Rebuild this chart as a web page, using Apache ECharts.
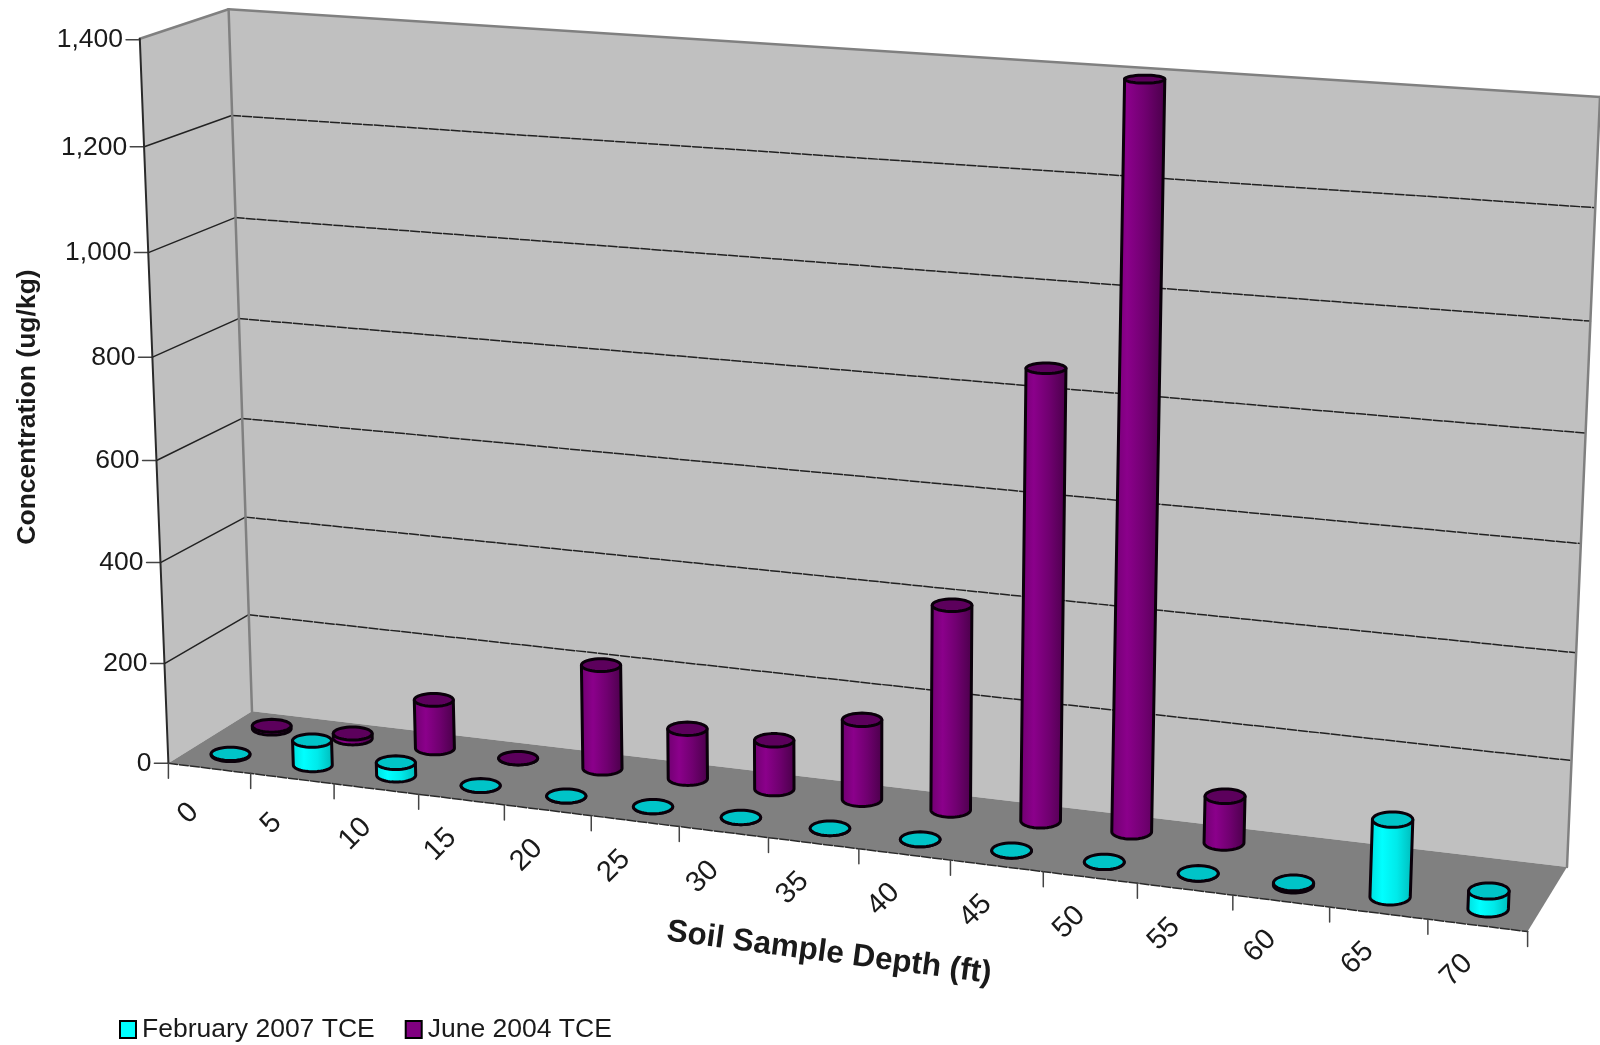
<!DOCTYPE html>
<html>
<head>
<meta charset="utf-8">
<script src="https://cdn.jsdelivr.net/npm/echarts@6/dist/echarts.min.js"></script>
<style>html,body{margin:0;padding:0;background:#fff}#main{width:1600px;height:1045px}</style>
</head>
<body>
<div id="main"></div>
<script>
// ---- data ----
var depthLabels = ['0','5','10','15','20','25','30','35','40','45','50','55','60','65','70'];
var valueTicks = [0,200,400,600,800,1000,1200,1400];
var feb2007 = [2,49,25,0,0,0,0,0,0,0,0,0,4,143,33];
var june2004 = [6,10,98,0,206,99,96,156,396,857,1392,89,null,null,null];
var seriesNames = ['February 2007 TCE','June 2004 TCE'];
var yTitle = 'Concentration (ug/kg)';
var xTitle = 'Soil Sample Depth (ft)';

// ---- perspective of the chart box (pixels of the wall corners) ----
var A=[168.4,763.3], B=[1527.6,931.6], D=[1567,867], C=[252,711.2];
var E=[139.8,38.8], F=[228.6,9.2], G=[1600,97];
var FONT='"Liberation Sans", Arial, sans-serif';

function floorHomography(p0,p1,p2,p3){
  var dx1=p1[0]-p2[0],dx2=p3[0]-p2[0],sx=p0[0]-p1[0]+p2[0]-p3[0];
  var dy1=p1[1]-p2[1],dy2=p3[1]-p2[1],sy=p0[1]-p1[1]+p2[1]-p3[1];
  var den=dx1*dy2-dx2*dy1;
  var g=(sx*dy2-dx2*sy)/den,h=(dx1*sy-sx*dy1)/den;
  return {a:p1[0]-p0[0]+g*p1[0],b:p3[0]-p0[0]+h*p3[0],c:p0[0],
          d:p1[1]-p0[1]+g*p1[1],e:p3[1]-p0[1]+h*p3[1],f:p0[1],g:g,h:h};
}
var H=floorHomography(A,B,D,C);
function solve3(M,r){
  var m=M.map(function(row,i){return row.concat(r[i]);});
  for(var i=0;i<3;i++){
    var piv=i;for(var k=i+1;k<3;k++)if(Math.abs(m[k][i])>Math.abs(m[piv][i]))piv=k;
    var t=m[i];m[i]=m[piv];m[piv]=t;
    for(var k2=0;k2<3;k2++){if(k2===i)continue;var fct=m[k2][i]/m[i][i];
      for(var j=i;j<4;j++)m[k2][j]-=fct*m[i][j];}
  }
  return [m[0][3]/m[0][0],m[1][3]/m[1][1],m[2][3]/m[2][2]];
}
var P=(function(){
  var rows=[],rhs=[];
  [[0,0,E],[0,1,F],[1,1,G]].forEach(function(q){
    var u=q[0],v=q[1],x=q[2][0],y=q[2][1];
    var N=H.a*u+H.b*v+H.c,M=H.d*u+H.e*v+H.f,L=H.g*u+H.h*v+1;
    rows.push([1,0,-x]);rhs.push(x*L-N);
    rows.push([0,1,-y]);rhs.push(y*L-M);
  });
  var AtA=[[0,0,0],[0,0,0],[0,0,0]],Atb=[0,0,0];
  rows.forEach(function(r,i){for(var a=0;a<3;a++){Atb[a]+=r[a]*rhs[i];for(var b=0;b<3;b++)AtA[a][b]+=r[a]*r[b];}});
  return solve3(AtA,Atb);
})();
// u: 0..1 along depth axis, v: 0 front..1 back, w: 0..1 of the value axis
function proj(u,v,w){
  var uu=u+0.0023*Math.sin(Math.PI*u);
  var L=H.g*uu+H.h*v+P[2]*w+1;
  return [(H.a*uu+H.b*v+P[0]*w+H.c)/L,(H.d*uu+H.e*v+P[1]*w+H.f)/L];
}
var boxRect={x:100,y:100,width:1400,height:800};
// library scale -> unit box
function toUnit(px){
  return [(px[0]-boxRect.x)/boxRect.width,1-(px[1]-boxRect.y)/boxRect.height];
}

function ln(p,q,color,width,dash){
  return {type:'line',shape:{x1:p[0],y1:p[1],x2:q[0],y2:q[1]},
    style:{stroke:color,lineWidth:width,lineDash:dash||null,lineCap:'round'},silent:true};
}
function poly(pts,fill){return {type:'polygon',shape:{points:pts},style:{fill:fill,stroke:null},silent:true};}
function txt(s,x,y,size,opt){
  opt=opt||{};
  return {type:'text',x:x,y:y,rotation:opt.rot||0,silent:true,
    style:{text:s,fill:'#1a1a1a',fontFamily:FONT,fontSize:size,fontWeight:opt.bold?'bold':'normal',
      align:opt.align||'center',verticalAlign:'middle'}};
}

function renderFrame(params,api){
  var kids=[];
  kids.push(poly([A,C,F,E],'#c0c0c0'));
  kids.push(poly([C,D,G,F],'#c0c0c0'));
  kids.push(poly([A,B,D,C],'#808080'));
  var maxV=valueTicks[valueTicks.length-1];
  valueTicks.forEach(function(t){
    var w=toUnit(api.coord([0,t]))[1];
    var a=proj(0,0,w),c=proj(0,1,w),d=proj(1,1,w);
    if(t>0&&t<maxV){
      kids.push(ln(a,c,'#222',1.5));
      kids.push(ln(c,d,'#222',1.5,[9,2]));
    }
    kids.push(ln([a[0]-14,a[1]],a,'#444',1.5));
    kids.push(txt(t.toLocaleString('en-US'),a[0]-17,a[1]+0.5,26.5,{align:'right'}));
  });
  kids.push(ln(E,F,'#808080',2.5));
  kids.push(ln(F,G,'#808080',2.5));
  kids.push(ln(F,C,'#808080',2.5));
  kids.push(ln(G,D,'#808080',2.5));
  kids.push(ln(E,A,'#2a2a2a',2));
  kids.push(ln(A,B,'#2a2a2a',1.5,[9,2]));
  var n=depthLabels.length;
  for(var i=0;i<=n;i++){
    var p=proj(i/n,0,0);
    kids.push(ln(p,[p[0],p[1]+15],'#444',1.5));
  }
  depthLabels.forEach(function(lab,i){
    var u=toUnit(api.coord([i,0]))[0];
    var p=proj(u,0,0);
    kids.push(txt(lab,p[0]-21,p[1]+45,29,{rot:Math.PI/4}));
  });
  kids.push(txt(yTitle,28,407,26.5,{bold:true,rot:Math.PI/2}));
  kids.push(txt(xTitle,829,953,31.5,{bold:true,rot:-7.5*Math.PI/180}));
  return {type:'group',children:kids};
}

function cylinderRenderer(depth,colors){
  return function(params,api){
    var val=api.value(1);
    if(val===null||val===undefined||isNaN(val))return null;
    var base=toUnit(api.coord([api.value(0),0]));
    var top=toUnit(api.coord([api.value(0),val]));
    var u=base[0],band=api.size([1,0])[0]/boxRect.width;
    var hw=band*0.235,dv=0.125;
    function ring(w){
      var c=proj(u,depth,w),l=proj(u-hw,depth,w),r=proj(u+hw,depth,w),
          f=proj(u,depth-dv,w),b=proj(u,depth+dv,w);
      var rx=19.5+((r[0]-l[0])/2-19.5)*0.2;
      return {x:c[0],y:c[1],rx:rx,ry:Math.abs(f[1]-b[1])/2};
    }
    function arc(e,a0,a1,steps){
      var out=[];
      for(var i=0;i<=steps;i++){var a=a0+(a1-a0)*i/steps;out.push([e.x+e.rx*Math.cos(a),e.y+e.ry*Math.sin(a)]);}
      return out;
    }
    var eb=ring(base[1]),et=ring(top[1]);
    var kids=[];
    var body=[[et.x-et.rx,et.y]].concat(arc(eb,Math.PI,0,28).map(function(p){return [p[0],eb.y+Math.abs(p[1]-eb.y)];}),[[et.x+et.rx,et.y]]);
    kids.push({type:'polygon',shape:{points:body},silent:true,
      style:{stroke:'#0a000a',lineWidth:3,lineJoin:'round',
        fill:{type:'linear',x:0,y:0,x2:1,y2:0,colorStops:[
          {offset:0,color:colors.side[0]},{offset:0.3,color:colors.side[1]},
          {offset:0.62,color:colors.side[2]},{offset:1,color:colors.side[3]}]}}});
    kids.push({type:'polygon',shape:{points:arc(et,0,Math.PI*2,40)},silent:true,
      style:{fill:colors.top,stroke:'#0a000a',lineWidth:3,lineJoin:'round'}});
    return {type:'group',children:kids};
  };
}
var cyanStyle={top:'#00c4c8',side:['#00dcdc','#00ffff','#00eaea','#00b8b8']};
var purpleStyle={top:'#5c005c',side:['#6e006e','#8b008b','#700070','#480048']};

function rows(arr){return arr.map(function(v,i){return [i,v];});}

var chart=echarts.init(document.getElementById('main'),null,{renderer:'canvas'});
chart.setOption({
  animation:false,
  backgroundColor:'#ffffff',
  textStyle:{fontFamily:FONT},
  grid:{left:boxRect.x,top:boxRect.y,width:boxRect.width,height:boxRect.height,show:false},
  xAxis:{type:'category',data:depthLabels,show:false},
  yAxis:{type:'value',min:0,max:1400,interval:200,show:false},
  legend:{
    data:seriesNames,left:114,top:1011,itemWidth:16,itemHeight:17,itemGap:30,icon:'rect',
    itemStyle:{borderColor:'#000',borderWidth:2},
    textStyle:{fontFamily:FONT,fontSize:26.5,color:'#1a1a1a',padding:[0,0,0,1]}
  },
  series:[
    {type:'custom',name:'frame',z:1,silent:true,clip:false,data:[[0,0]],renderItem:renderFrame,encode:{x:0,y:1}},
    {type:'custom',name:seriesNames[1],z:2,clip:false,itemStyle:{color:'#800080'},data:rows(june2004),
      renderItem:cylinderRenderer(0.75,purpleStyle),encode:{x:0,y:1}},
    {type:'custom',name:seriesNames[0],z:3,clip:false,itemStyle:{color:'#00ffff'},data:rows(feb2007),
      renderItem:cylinderRenderer(0.25,cyanStyle),encode:{x:0,y:1}}
  ]
});
</script>
</body>
</html>
